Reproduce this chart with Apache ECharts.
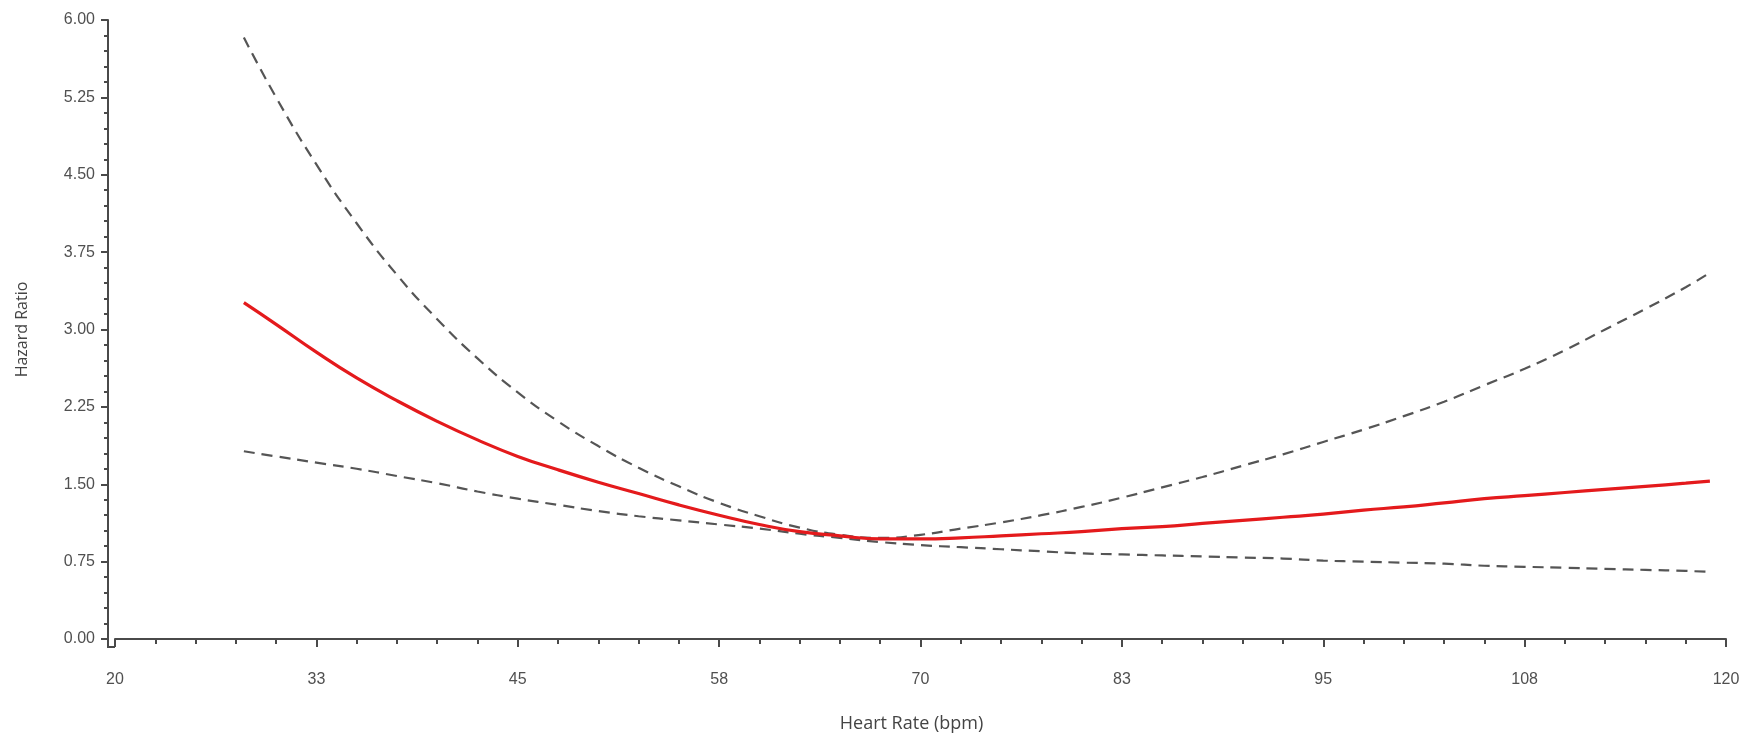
<!DOCTYPE html>
<html>
<head>
<meta charset="utf-8">
<script src="https://cdn.jsdelivr.net/npm/echarts@6/dist/echarts.min.js"></script>
<style>
  html, body { margin: 0; padding: 0; background: #fff; }
  #chart { width: 1754px; height: 736px; }
</style>
</head>
<body>
<div id="chart"></div>
<script>
// heart rate (bpm) at which the curves were read
var heartRate = [28, 30, 32.5, 35, 37.5, 40, 42.5, 45, 47.5, 50, 52.5, 55, 57.5, 60, 62.5, 65, 67.5, 70,
    72.5, 75, 77.5, 80, 82.5, 85, 87.5, 90, 92.5, 95, 97.5, 100, 102.5, 105, 107.5, 110, 112.5, 115, 117.5, 119];

// hazard ratio estimate
var hrEstimate = [3.26, 3.05, 2.78, 2.53, 2.31, 2.11, 1.93, 1.77, 1.64, 1.52, 1.41, 1.30, 1.20, 1.11, 1.04, 1.00, 0.97, 0.97,
    0.98, 1.00, 1.02, 1.04, 1.07, 1.09, 1.12, 1.15, 1.18, 1.21, 1.25, 1.28, 1.32, 1.36, 1.39, 1.42, 1.45, 1.48, 1.51, 1.53];

// upper and lower confidence limits
var hrUpper = [5.83, 5.25, 4.60, 4.03, 3.53, 3.10, 2.72, 2.39, 2.11, 1.87, 1.66, 1.48, 1.32, 1.19, 1.08, 1.01, 0.98, 1.01,
    1.07, 1.13, 1.20, 1.28, 1.37, 1.47, 1.57, 1.68, 1.79, 1.91, 2.03, 2.16, 2.30, 2.46, 2.62, 2.80, 3.00, 3.20, 3.41, 3.55];
var hrLower = [1.82, 1.77, 1.71, 1.65, 1.58, 1.51, 1.43, 1.36, 1.30, 1.24, 1.19, 1.15, 1.11, 1.07, 1.02, 0.98, 0.94, 0.91,
    0.89, 0.87, 0.85, 0.83, 0.82, 0.81, 0.80, 0.79, 0.78, 0.76, 0.75, 0.74, 0.73, 0.71, 0.70, 0.69, 0.68, 0.67, 0.66, 0.65];

var xTickLabels = ['20', '33', '45', '58', '70', '83', '95', '108', '120'];

function pairs(ys) {
    return heartRate.map(function (x, i) { return [x, ys[i]]; });
}

var dom = document.getElementById('chart');
var myChart = echarts.init(dom);

var axisColor = '#4a4a4a';
var labelFont = {
    color: '#505050',
    fontSize: 16,
    fontFamily: 'Liberation Sans, Arial, sans-serif'
};
var dashed = { color: '#555', width: 2.2, type: [11, 7] };

var option = {
    backgroundColor: '#fff',
    animation: false,
    grid: {
        left: 115,
        right: 28,
        top: 20,
        bottom: 97,
        outerBoundsMode: 'none'
    },
    xAxis: {
        type: 'value',
        min: 20,
        max: 120,
        interval: 12.5,
        offset: 8,
        name: 'Heart Rate (bpm)',
        nameLocation: 'middle',
        nameGap: 68,
        nameTextStyle: {
            color: '#444',
            fontSize: 18,
            fontFamily: 'Open Sans, Liberation Sans, sans-serif',
            padding: [0, 18, 0, 0]
        },
        axisLine: { show: true, lineStyle: { color: axisColor, width: 2 } },
        axisTick: { show: true, length: 8, lineStyle: { color: axisColor, width: 2 } },
        minorTick: { show: true, splitNumber: 5, length: 5, lineStyle: { color: axisColor, width: 2 } },
        axisLabel: Object.assign({
            margin: 25,
            formatter: function (v) {
                return xTickLabels[Math.round((v - 20) / 12.5)];
            }
        }, labelFont),
        splitLine: { show: false }
    },
    yAxis: {
        type: 'value',
        min: 0,
        max: 6,
        interval: 0.75,
        offset: 7,
        name: 'Hazard Ratio',
        nameLocation: 'middle',
        nameGap: 78,
        nameTextStyle: {
            color: '#444',
            fontSize: 16,
            fontFamily: 'Open Sans, Liberation Sans, sans-serif'
        },
        axisLine: { show: true, lineStyle: { color: axisColor, width: 2 } },
        axisTick: { show: true, length: 7, lineStyle: { color: axisColor, width: 2 } },
        minorTick: { show: true, splitNumber: 5, length: 4, lineStyle: { color: axisColor, width: 2 } },
        axisLabel: Object.assign({
            margin: 13,
            formatter: function (v) { return v.toFixed(2); }
        }, labelFont),
        splitLine: { show: false }
    },
    series: [
        {
            name: 'Upper limit',
            type: 'line',
            data: pairs(hrUpper),
            smooth: true,
            showSymbol: false,
            lineStyle: dashed
        },
        {
            name: 'Lower limit',
            type: 'line',
            data: pairs(hrLower),
            smooth: true,
            showSymbol: false,
            lineStyle: dashed
        },
        {
            name: 'Hazard ratio',
            type: 'line',
            data: pairs(hrEstimate),
            smooth: true,
            showSymbol: false,
            lineStyle: { color: '#e41a1c', width: 3.2 }
        }
    ]
};

myChart.setOption(option);

// close the corner between the two offset axis lines
var corner = myChart.convertToPixel({ gridIndex: 0 }, [20, 0]);
var ax = corner[0] - 7, ay = corner[1] + 8;
myChart.setOption({
    graphic: [{
        type: 'polyline',
        shape: { points: [[ax, corner[1]], [ax, ay], [corner[0], ay]] },
        style: { stroke: axisColor, lineWidth: 2, fill: null },
        silent: true
    }]
});
</script>
</body>
</html>
